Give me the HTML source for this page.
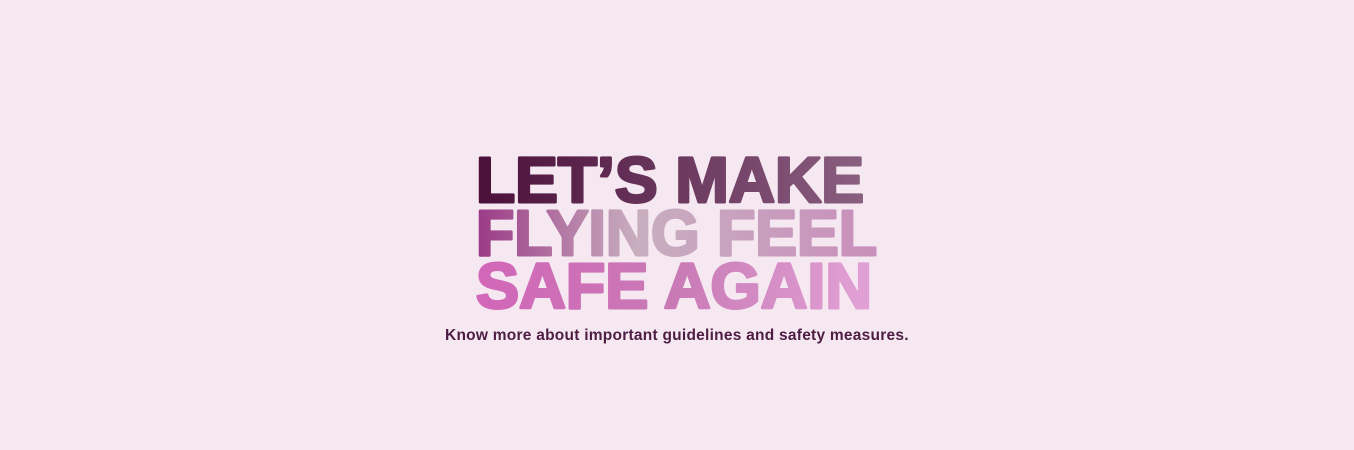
<!DOCTYPE html>
<html><head><meta charset="utf-8"><style>
html,body{margin:0;padding:0;background:#f5e8f1;width:1354px;height:450px;overflow:hidden}
.sub{position:absolute;left:445px;top:327px;width:465px;font:bold 15.5px "Liberation Sans",sans-serif;color:#4e1d44;letter-spacing:0.25px;white-space:nowrap}
</style></head><body>
<svg width="1354" height="450" style="position:absolute;left:0;top:0">
<defs>
<linearGradient id="g1" x1="0" y1="0" x2="1" y2="0"><stop offset="0" stop-color="#4a0f3a"/><stop offset="1" stop-color="#8a5f80"/></linearGradient>
<linearGradient id="g2" x1="0" y1="0" x2="1" y2="0"><stop offset="0" stop-color="#9b3a86"/><stop offset="0.4" stop-color="#c8aebf"/><stop offset="1" stop-color="#c98fbc"/></linearGradient>
<linearGradient id="g3" x1="0" y1="0" x2="1" y2="0"><stop offset="0" stop-color="#d266b8"/><stop offset="0.5" stop-color="#c97ab6"/><stop offset="1" stop-color="#e2a2d6"/></linearGradient>
</defs>
<text x="476" y="202" font-family="Liberation Sans" font-weight="bold" font-size="64" fill="url(#g1)" stroke="url(#g1)" stroke-width="3" stroke-linejoin="round" textLength="388" lengthAdjust="spacingAndGlyphs">LET’S MAKE</text>
<text x="476" y="255" font-family="Liberation Sans" font-weight="bold" font-size="64" fill="url(#g2)" stroke="url(#g2)" stroke-width="3" stroke-linejoin="round" textLength="401" lengthAdjust="spacingAndGlyphs">FLYING FEEL</text>
<text x="476" y="308" font-family="Liberation Sans" font-weight="bold" font-size="64" fill="url(#g3)" stroke="url(#g3)" stroke-width="3" stroke-linejoin="round" textLength="396" lengthAdjust="spacingAndGlyphs">SAFE AGAIN</text>
</svg>
<div class="sub">Know more about important guidelines and safety measures.</div>
</body></html>
